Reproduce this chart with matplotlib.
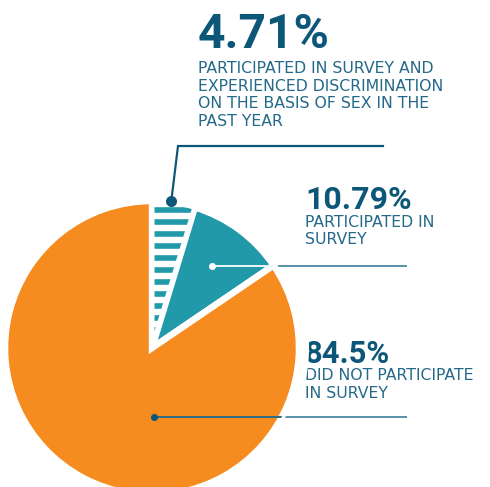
import numpy as np
import matplotlib
matplotlib.use("Agg")
import matplotlib.pyplot as plt
from matplotlib.patches import Wedge, Circle

W, H = 490, 487
DPI = 72

shares = [4.71, 10.79, 84.5]
headlines = ["4.71%", "10.79%", "84.5%"]
captions = [
    ["PARTICIPATED IN SURVEY AND", "EXPERIENCED DISCRIMINATION",
     "ON THE BASIS OF SEX IN THE", "PAST YEAR"],
    ["PARTICIPATED IN", "SURVEY"],
    ["DID NOT PARTICIPATE", "IN SURVEY"],
]

ORANGE = "#f68c1f"
TEAL = "#2299a9"
NAVY = "#0c5778"
CAPTION = "#24698a"
LEADER = "#5a93aa"

plt.rcParams["hatch.linewidth"] = 5.6

fig = plt.figure(figsize=(W / DPI, H / DPI), dpi=DPI)
ax = fig.add_axes([0, 0, 1, 1])


def img(x, y):
    # pixel position measured from the top-left corner -> data coords
    return x, H - y


cx, cy = img(152, 348)
R = 147
GAP = 6.5

wedges, _ = ax.pie(
    shares,
    colors=["white", TEAL, ORANGE],
    startangle=90,
    counterclock=False,
    center=(cx, cy),
    radius=R,
    frame=True,
    wedgeprops=dict(edgecolor="white", linewidth=GAP, zorder=3),
)

# striped fill for the smallest slice
w0 = wedges[0]
stripes = Wedge((cx, cy), R, w0.theta1, w0.theta2, facecolor="none",
                edgecolor=TEAL, linewidth=0, hatch="-", zorder=3.1)
ax.add_patch(stripes)
ax.add_patch(Wedge((cx, cy), R, w0.theta1, w0.theta2, facecolor="none",
                   edgecolor="white", linewidth=GAP - 1.5, zorder=3.2))

# white halo around the pie, sits over the right-hand labels
ax.add_patch(Circle((cx, cy), R + 10, facecolor="white", edgecolor="none", zorder=1.5))


def polar(theta, frac):
    t = np.deg2rad(theta)
    return cx + frac * R * np.cos(t), cy + frac * R * np.sin(t)


# leader for the striped slice: dot on the rim, elbow up, then right
mid0 = (w0.theta1 + w0.theta2) / 2
d0 = polar(mid0 + 1, 1.01)
ex, ey = img(178, 146)
ax.plot([d0[0], ex, 383], [d0[1], ey, ey], color=NAVY, lw=2.2,
        solid_joinstyle="miter", zorder=4)
ax.plot(*d0, "o", ms=10, color=NAVY, zorder=5)

# leader for the teal slice
w1 = wedges[1]
d1 = polar((w1.theta1 + w1.theta2) / 2, 0.69)
ax.plot([d1[0], 406], [d1[1], d1[1]], color=LEADER, lw=2, zorder=2)
inner = ax.plot([d1[0], 406], [d1[1], d1[1]], color="#e8f2f4", lw=2, zorder=4)[0]
inner.set_clip_path(w1)
ax.plot(*d1, "o", ms=6, color="white", zorder=5)

# leader for the orange slice
d2 = polar(-88, 0.47)
ax.plot([d2[0], 406], [d2[1], d2[1]], color=LEADER, lw=2, zorder=2)
inner2 = ax.plot([d2[0], 406], [d2[1], d2[1]], color="#2f6c86", lw=2, zorder=4)[0]
inner2.set_clip_path(wedges[2])
ax.plot(*d2, "o", ms=6, color=NAVY, zorder=5)

# labels: (x, headline baseline, headline size, first caption baseline, step)
label_pos = [(198, 48, 48, 73, 17.6), (305, 209, 32, 227, 17.5), (305, 363, 31, 380, 18)]
for (x, hb, hs, cb, step), head, lines in zip(label_pos, headlines, captions):
    ax.text(*img(x, hb), head, fontsize=hs, fontweight="bold", family="Roboto",
            color=NAVY, ha="left", va="baseline", zorder=1)
    for i, line in enumerate(lines):
        ax.text(*img(x, cb + i * step), line, fontsize=15.8, family="DejaVu Sans",
                color=CAPTION, ha="left", va="baseline", zorder=1)

ax.set_xlim(0, W)
ax.set_ylim(0, H)
ax.set_aspect("equal")
ax.axis("off")

fig.savefig("out.png", dpi=DPI, facecolor="white")
